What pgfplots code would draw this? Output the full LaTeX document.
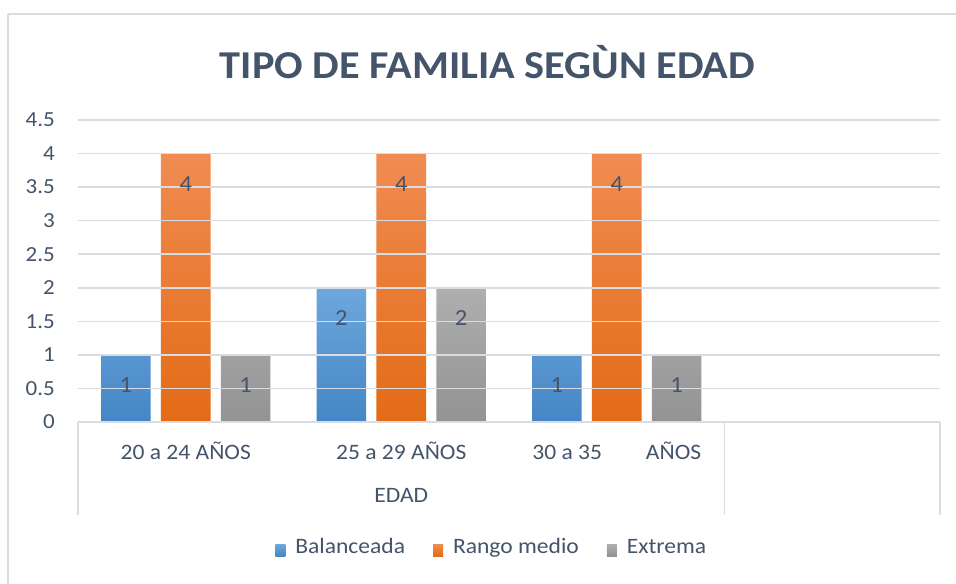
\documentclass[border=0pt]{standalone}
\usepackage{pgfplots}
\pgfplotsset{compat=1.18}
\usepackage{fontspec}
\setmainfont{Carlito}[FakeStretch=1.07]
\definecolor{txt}{HTML}{44546A}
\definecolor{gridc}{HTML}{D9DDE3}
\definecolor{bTop}{HTML}{6EA7DC}
\definecolor{bBot}{HTML}{4486C6}
\definecolor{oTop}{HTML}{F08C52}
\definecolor{oMid}{HTML}{F47B25}
\definecolor{oBot}{HTML}{E36B16}
\definecolor{gTop}{HTML}{AFAFAF}
\definecolor{gBot}{HTML}{939393}
\begin{document}
\begin{tikzpicture}[x=1bp,y=1bp]
\useasboundingbox (0,0) rectangle (956,584);
\fill[white] (0,0) rectangle (956,584);
\draw[gridc, line width=1.5bp] (8,570) -- (960,570);
\draw[gridc, line width=1.5bp] (8,570) -- (8,-5);
\begin{axis}[
  at={(78bp,162bp)}, anchor=south west,
  scale only axis, width=862bp, height=302bp,
  xmin=-0.5, xmax=3.5, ymin=0, ymax=4.5,
  ytick={0,0.5,...,4.5},
  xtick={0,1,2},
  xticklabels={20 a 24 AÑOS, 25 a 29 AÑOS, {30 a 35\hspace{44bp}AÑOS}},
  major tick length=0pt,
  axis x line*=bottom, axis y line*=left,
  y axis line style={draw=none},
  x axis line style={gridc, line width=1.5bp},
  ymajorgrids, major grid style={gridc, line width=1.5bp},
  axis on top,
  clip=false,
  /pgf/number format/assume math mode=true,
  yticklabel style={anchor=east, inner sep=0pt, xshift=-23bp, text=txt, font=\fontsize{21.5bp}{25bp}\selectfont},
  xticklabel style={anchor=center, inner sep=0pt, yshift=-29bp, text=txt, font=\fontsize{22bp}{26bp}\selectfont},
  legend style={at={(0.48,-0.414)}, anchor=center, draw=none, fill=none,
    legend columns=3, text=txt, font=\fontsize{22bp}{26bp}\selectfont,
    /tikz/every odd column/.append style={column sep=8bp},
    /tikz/every even column/.append style={column sep=26bp},
    legend cell align=left},
]
\addplot[ybar, bar width=0.23, bar shift=-0.278, draw=none, top color=bTop, bottom color=bBot,
  legend image code/.code={\shade[top color=bTop,bottom color=bBot] (0bp,-9bp) rectangle (10bp,3bp);}]
  coordinates {(0,1) (1,2) (2,1)};
\addlegendentry{Balanceada}
\addplot[ybar, bar width=0.23, bar shift=0, draw=none, top color=oTop, middle color=oMid, bottom color=oBot,
  legend image code/.code={\shade[top color=oTop,bottom color=oBot] (0bp,-9bp) rectangle (10bp,3bp);}]
  coordinates {(0,4) (1,4) (2,4)};
\addlegendentry{Rango medio}
\addplot[ybar, bar width=0.23, bar shift=0.278, draw=none, top color=gTop, bottom color=gBot,
  legend image code/.code={\shade[top color=gTop,bottom color=gBot] (0bp,-9bp) rectangle (10bp,3bp);}]
  coordinates {(0,1) (1,2) (2,1)};
\addlegendentry{Extrema}
\addplot[draw=none, mark=none, forget plot, nodes near coords, point meta=explicit symbolic,
  every node near coord/.style={anchor=center, inner sep=0pt, text=txt, font=\fontsize{23bp}{27bp}\selectfont}]
  coordinates {(-0.278,0.55)[1] (0,3.55)[4] (0.278,0.55)[1]
               (0.722,1.55)[2] (1,3.55)[4] (1.278,1.55)[2]
               (1.722,0.55)[1] (2,3.55)[4] (2.278,0.55)[1]};
\draw[gridc, line width=1.5bp] (rel axis cs:0,0) -- ++(0pt,-93bp);
\draw[gridc, line width=1.5bp] (axis cs:2.5,0) -- ++(0pt,-93bp);
\draw[gridc, line width=1.5bp] (rel axis cs:1,0) -- ++(0pt,-93bp);
\node[text=txt, font=\fontsize{22bp}{26bp}\selectfont, anchor=center] at ([yshift=-73bp]axis cs:1,0) {EDAD};
\node[text=txt, font=\fontsize{39.5bp}{44bp}\selectfont\bfseries, anchor=center] at ([yshift=58bp]rel axis cs:0.475,1) {TIPO DE FAMILIA SEGÙN EDAD};
\end{axis}
\end{tikzpicture}
\end{document}
